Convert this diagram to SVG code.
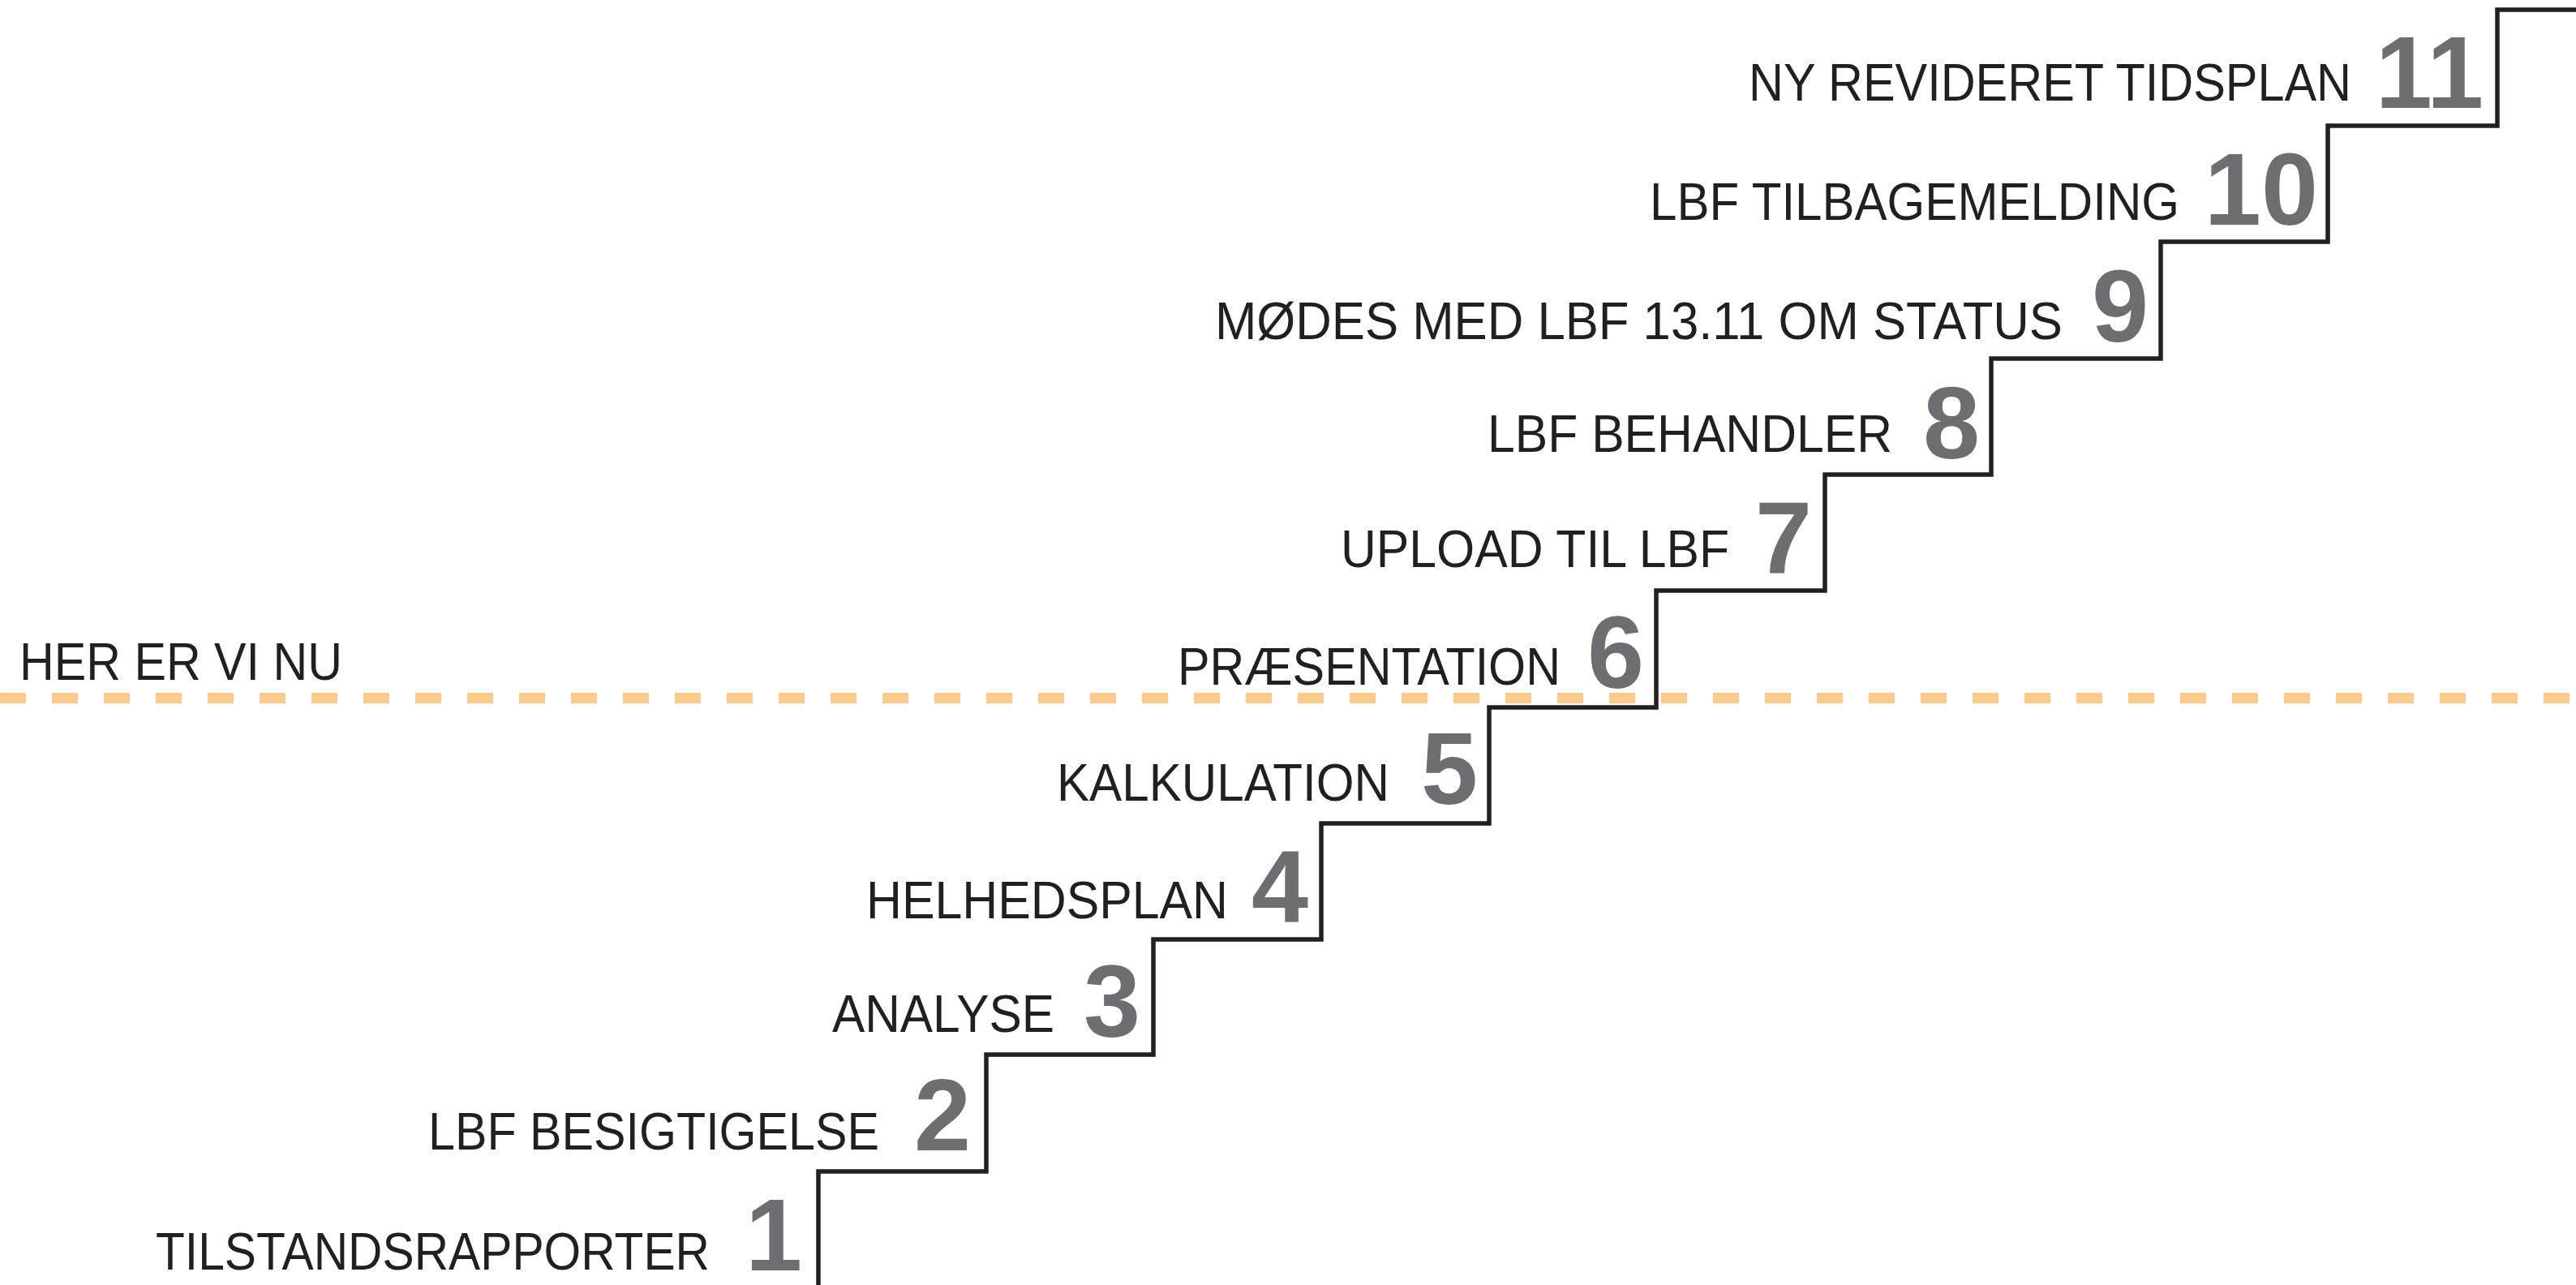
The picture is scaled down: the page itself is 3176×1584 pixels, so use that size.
<svg xmlns="http://www.w3.org/2000/svg" width="3176" height="1584" viewBox="0 0 3176 1584">
<style>
.lbl{font-family:"Liberation Sans",Arial,sans-serif;font-size:64px;fill:#231F20;text-anchor:end}
.num{font-family:"Liberation Sans",Arial,sans-serif;font-size:126px;font-weight:bold;fill:#6D6E71;text-anchor:end}
.stair{fill:none;stroke:#231F20;stroke-width:5.5;stroke-linejoin:miter}
.now{fill:none;stroke:#FFC98A;stroke-width:13;stroke-dasharray:32 32}
</style>
<rect width="3176" height="1584" fill="#FFFFFF"/>
<g id="connectors">
<path class="stair" d="M1009,1584 V1444 H1216 V1300 H1422 V1158 H1629 V1015 H1836 V872 H2042 V728 H2250 V585 H2455 V442 H2664 V298 H2870 V155 H3079 V12 H3176"/>
<line class="now" x1="0" y1="860.5" x2="3176" y2="860.5"/>
</g>
<g id="marker-now"><text x="24" y="838" class="lbl" style="text-anchor:start" textLength="398" lengthAdjust="spacingAndGlyphs">HER ER VI NU</text></g>
<g id="step1"><text class="lbl" x="875" y="1565" textLength="683" lengthAdjust="spacingAndGlyphs">TILSTANDSRAPPORTER</text><text class="num" x="989" y="1566">1</text></g>
<g id="step2"><text class="lbl" x="1084" y="1417" textLength="556" lengthAdjust="spacingAndGlyphs">LBF BESIGTIGELSE</text><text class="num" x="1197" y="1418">2</text></g>
<g id="step3"><text class="lbl" x="1300" y="1272" textLength="274" lengthAdjust="spacingAndGlyphs">ANALYSE</text><text class="num" x="1406" y="1278">3</text></g>
<g id="step4"><text class="lbl" x="1514" y="1132" textLength="446" lengthAdjust="spacingAndGlyphs">HELHEDSPLAN</text><text class="num" x="1613" y="1137">4</text></g>
<g id="step5"><text class="lbl" x="1713" y="987" textLength="410" lengthAdjust="spacingAndGlyphs">KALKULATION</text><text class="num" x="1822" y="991">5</text></g>
<g id="step6"><text class="lbl" x="1924" y="844" textLength="472" lengthAdjust="spacingAndGlyphs">PRÆSENTATION</text><text class="num" x="2027" y="848">6</text></g>
<g id="step7"><text class="lbl" x="2132" y="699" textLength="479" lengthAdjust="spacingAndGlyphs">UPLOAD TIL LBF</text><text class="num" x="2234" y="707">7</text></g>
<g id="step8"><text class="lbl" x="2333" y="557" textLength="499" lengthAdjust="spacingAndGlyphs">LBF BEHANDLER</text><text class="num" x="2441" y="565">8</text></g>
<g id="step9"><text class="lbl" x="2543" y="418" textLength="1045" lengthAdjust="spacingAndGlyphs">MØDES MED LBF 13.11 OM STATUS</text><text class="num" x="2649" y="421">9</text></g>
<g id="step10"><text class="lbl" x="2687" y="271" textLength="653" lengthAdjust="spacingAndGlyphs">LBF TILBAGEMELDING</text><text class="num" x="2858" y="277">10</text></g>
<g id="step11"><text class="lbl" x="2899" y="124" textLength="743" lengthAdjust="spacingAndGlyphs">NY REVIDERET TIDSPLAN</text><text class="num" x="3062" y="133">11</text></g>
</svg>
